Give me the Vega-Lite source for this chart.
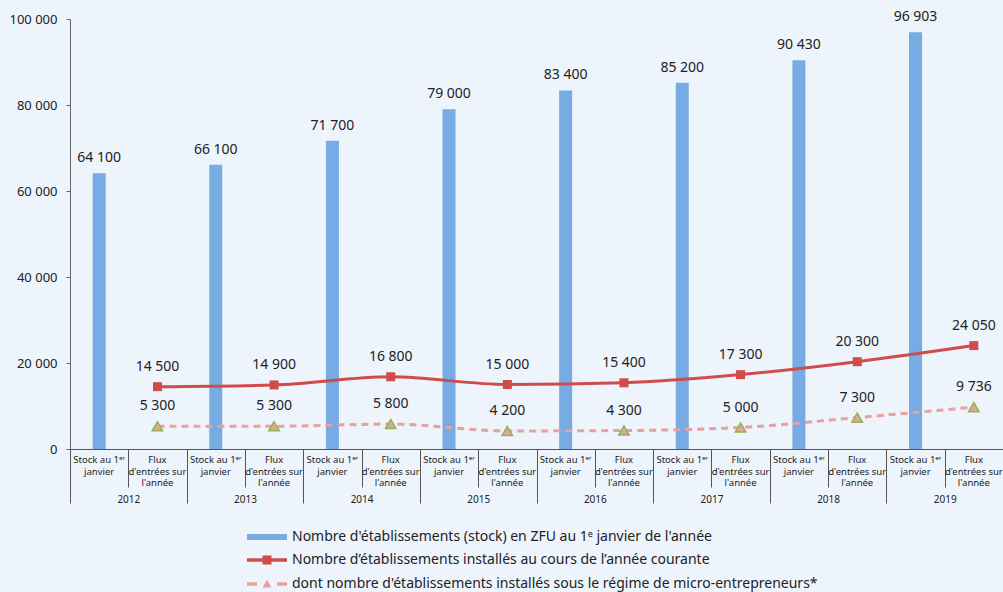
{
  "$schema": "https://vega.github.io/schema/vega-lite/v6.json",
  "width": 933,
  "height": 430,
  "padding": {"left": 9, "top": 10, "right": 0, "bottom": 5},
  "background": "#EEF4FC",
  "config": {
    "view": {"stroke": null},
    "font": "Noto Sans",
    "axis": {"grid": false}
  },
  "datasets": {
    "cats": [
      {"cat": "2012S", "l1": "Stock au 1ᵉʳ", "l2": "janvier", "l3": ""},
      {"cat": "2012F", "l1": "Flux", "l2": "d'entrées sur", "l3": "l'année"},
      {"cat": "2013S", "l1": "Stock au 1ᵉʳ", "l2": "janvier", "l3": ""},
      {"cat": "2013F", "l1": "Flux", "l2": "d'entrées sur", "l3": "l'année"},
      {"cat": "2014S", "l1": "Stock au 1ᵉʳ", "l2": "janvier", "l3": ""},
      {"cat": "2014F", "l1": "Flux", "l2": "d'entrées sur", "l3": "l'année"},
      {"cat": "2015S", "l1": "Stock au 1ᵉʳ", "l2": "janvier", "l3": ""},
      {"cat": "2015F", "l1": "Flux", "l2": "d'entrées sur", "l3": "l'année"},
      {"cat": "2016S", "l1": "Stock au 1ᵉʳ", "l2": "janvier", "l3": ""},
      {"cat": "2016F", "l1": "Flux", "l2": "d'entrées sur", "l3": "l'année"},
      {"cat": "2017S", "l1": "Stock au 1ᵉʳ", "l2": "janvier", "l3": ""},
      {"cat": "2017F", "l1": "Flux", "l2": "d'entrées sur", "l3": "l'année"},
      {"cat": "2018S", "l1": "Stock au 1ᵉʳ", "l2": "janvier", "l3": ""},
      {"cat": "2018F", "l1": "Flux", "l2": "d'entrées sur", "l3": "l'année"},
      {"cat": "2019S", "l1": "Stock au 1ᵉʳ", "l2": "janvier", "l3": ""},
      {"cat": "2019F", "l1": "Flux", "l2": "d'entrées sur", "l3": "l'année"}
    ],
    "main": [
      {"year": "2012", "cat": "2012S", "kind": "stock", "series": "Nombre d'établissements (stock) en ZFU au 1ᵉ janvier de l'année", "value": 64100},
      {"year": "2013", "cat": "2013S", "kind": "stock", "series": "Nombre d'établissements (stock) en ZFU au 1ᵉ janvier de l'année", "value": 66100},
      {"year": "2014", "cat": "2014S", "kind": "stock", "series": "Nombre d'établissements (stock) en ZFU au 1ᵉ janvier de l'année", "value": 71700},
      {"year": "2015", "cat": "2015S", "kind": "stock", "series": "Nombre d'établissements (stock) en ZFU au 1ᵉ janvier de l'année", "value": 79000},
      {"year": "2016", "cat": "2016S", "kind": "stock", "series": "Nombre d'établissements (stock) en ZFU au 1ᵉ janvier de l'année", "value": 83400},
      {"year": "2017", "cat": "2017S", "kind": "stock", "series": "Nombre d'établissements (stock) en ZFU au 1ᵉ janvier de l'année", "value": 85200},
      {"year": "2018", "cat": "2018S", "kind": "stock", "series": "Nombre d'établissements (stock) en ZFU au 1ᵉ janvier de l'année", "value": 90430},
      {"year": "2019", "cat": "2019S", "kind": "stock", "series": "Nombre d'établissements (stock) en ZFU au 1ᵉ janvier de l'année", "value": 96903},
      {"year": "2012", "cat": "2012F", "kind": "flux", "series": "Nombre d’établissements installés au cours de l’année courante", "value": 14500},
      {"year": "2013", "cat": "2013F", "kind": "flux", "series": "Nombre d’établissements installés au cours de l’année courante", "value": 14900},
      {"year": "2014", "cat": "2014F", "kind": "flux", "series": "Nombre d’établissements installés au cours de l’année courante", "value": 16800},
      {"year": "2015", "cat": "2015F", "kind": "flux", "series": "Nombre d’établissements installés au cours de l’année courante", "value": 15000},
      {"year": "2016", "cat": "2016F", "kind": "flux", "series": "Nombre d’établissements installés au cours de l’année courante", "value": 15400},
      {"year": "2017", "cat": "2017F", "kind": "flux", "series": "Nombre d’établissements installés au cours de l’année courante", "value": 17300},
      {"year": "2018", "cat": "2018F", "kind": "flux", "series": "Nombre d’établissements installés au cours de l’année courante", "value": 20300},
      {"year": "2019", "cat": "2019F", "kind": "flux", "series": "Nombre d’établissements installés au cours de l’année courante", "value": 24050},
      {"year": "2012", "cat": "2012F", "kind": "micro", "series": "dont nombre d'établissements installés sous le régime de micro-entrepreneurs*", "value": 5300},
      {"year": "2013", "cat": "2013F", "kind": "micro", "series": "dont nombre d'établissements installés sous le régime de micro-entrepreneurs*", "value": 5300},
      {"year": "2014", "cat": "2014F", "kind": "micro", "series": "dont nombre d'établissements installés sous le régime de micro-entrepreneurs*", "value": 5800},
      {"year": "2015", "cat": "2015F", "kind": "micro", "series": "dont nombre d'établissements installés sous le régime de micro-entrepreneurs*", "value": 4200},
      {"year": "2016", "cat": "2016F", "kind": "micro", "series": "dont nombre d'établissements installés sous le régime de micro-entrepreneurs*", "value": 4300},
      {"year": "2017", "cat": "2017F", "kind": "micro", "series": "dont nombre d'établissements installés sous le régime de micro-entrepreneurs*", "value": 5000},
      {"year": "2018", "cat": "2018F", "kind": "micro", "series": "dont nombre d'établissements installés sous le régime de micro-entrepreneurs*", "value": 7300},
      {"year": "2019", "cat": "2019F", "kind": "micro", "series": "dont nombre d'établissements installés sous le régime de micro-entrepreneurs*", "value": 9736}
    ]
  },
  "data": {"name": "main"},
  "layer": [
    {
      "transform": [{"filter": "datum.kind == 'stock'"}],
      "mark": {"type": "bar", "size": 13, "color": "#76ABE3", "xOffset": -29.15},
      "encoding": {
        "x": {
          "field": "year", "type": "nominal",
          "scale": {"paddingInner": 0, "paddingOuter": 0},
          "axis": {
            "orient": "bottom", "title": null, "labelAngle": 0, "tickBand": "extent",
            "tickSize": 54, "tickColor": "#555", "domainColor": "#555",
            "labelPadding": -9, "labelBaseline": "top", "labelFontSize": 10, "labelColor": "#222"
          }
        },
        "y": {
          "field": "value", "type": "quantitative",
          "scale": {"domain": [0, 100000], "nice": false},
          "axis": {
            "title": null, "values": [0, 20000, 40000, 60000, 80000, 100000],
            "labelExpr": "replace(format(datum.value, ',d'), ',', ' ')",
            "tickSize": 4, "tickColor": "#666", "domainColor": "#666",
            "labelFontSize": 13, "labelColor": "#222", "labelPadding": 9
          }
        }
      }
    },
    {
      "transform": [{"filter": "datum.kind == 'stock'"}],
      "mark": {"type": "text", "dy": -15, "fontSize": 14, "color": "#222", "xOffset": -29.15, "text": {"expr": "replace(format(datum.value, ',d'), ',', ' ')"}},
      "encoding": {
        "x": {"field": "year", "type": "nominal", "scale": {"paddingInner": 0, "paddingOuter": 0}, "axis": null},
        "y": {"field": "value", "type": "quantitative", "scale": {"domain": [0, 100000], "nice": false}}
      }
    },
    {
      "transform": [{"filter": "datum.kind == 'flux'"}],
      "mark": {"type": "line", "color": "#D24B4B", "strokeWidth": 3, "interpolate": "monotone"},
      "encoding": {
        "x": {
          "field": "cat", "type": "nominal",
          "scale": {
            "domain": ["2012S", "2012F", "2013S", "2013F", "2014S", "2014F", "2015S", "2015F", "2016S", "2016F", "2017S", "2017F", "2018S", "2018F", "2019S", "2019F"],
            "paddingInner": 0, "paddingOuter": 0
          },
          "axis": {
            "orient": "bottom", "title": null, "labels": false, "tickBand": "extent",
            "tickSize": 38, "tickColor": "#555", "domain": false
          }
        },
        "y": {"field": "value", "type": "quantitative", "scale": {"domain": [0, 100000], "nice": false}}
      }
    },
    {
      "transform": [{"filter": "datum.kind == 'micro'"}],
      "mark": {"type": "line", "color": "#E8A0A0", "strokeWidth": 3, "strokeDash": [7, 5], "interpolate": "monotone"},
      "encoding": {
        "x": {"field": "cat", "type": "nominal", "scale": {"domain": ["2012S", "2012F", "2013S", "2013F", "2014S", "2014F", "2015S", "2015F", "2016S", "2016F", "2017S", "2017F", "2018S", "2018F", "2019S", "2019F"], "paddingInner": 0, "paddingOuter": 0}, "axis": null},
        "y": {"field": "value", "type": "quantitative", "scale": {"domain": [0, 100000], "nice": false}}
      }
    },
    {
      "transform": [{"filter": "datum.kind == 'flux'"}],
      "mark": {"type": "point", "shape": "square", "filled": true, "size": 81, "color": "#D24B4B", "opacity": 1},
      "encoding": {
        "x": {"field": "cat", "type": "nominal", "scale": {"domain": ["2012S", "2012F", "2013S", "2013F", "2014S", "2014F", "2015S", "2015F", "2016S", "2016F", "2017S", "2017F", "2018S", "2018F", "2019S", "2019F"], "paddingInner": 0, "paddingOuter": 0}, "axis": null},
        "y": {"field": "value", "type": "quantitative", "scale": {"domain": [0, 100000], "nice": false}}
      }
    },
    {
      "transform": [{"filter": "datum.kind == 'micro'"}],
      "mark": {"type": "point", "shape": "triangle-up", "filled": true, "size": 110, "fill": "#E8A0A0", "stroke": "#8DB84A", "strokeWidth": 1.5, "opacity": 1},
      "encoding": {
        "x": {"field": "cat", "type": "nominal", "scale": {"domain": ["2012S", "2012F", "2013S", "2013F", "2014S", "2014F", "2015S", "2015F", "2016S", "2016F", "2017S", "2017F", "2018S", "2018F", "2019S", "2019F"], "paddingInner": 0, "paddingOuter": 0}, "axis": null},
        "y": {"field": "value", "type": "quantitative", "scale": {"domain": [0, 100000], "nice": false}}
      }
    },
    {
      "transform": [{"filter": "datum.kind != 'stock'"}],
      "mark": {"type": "text", "dy": -20, "fontSize": 14, "color": "#222", "text": {"expr": "replace(format(datum.value, ',d'), ',', ' ')"}},
      "encoding": {
        "x": {"field": "cat", "type": "nominal", "scale": {"domain": ["2012S", "2012F", "2013S", "2013F", "2014S", "2014F", "2015S", "2015F", "2016S", "2016F", "2017S", "2017F", "2018S", "2018F", "2019S", "2019F"], "paddingInner": 0, "paddingOuter": 0}, "axis": null},
        "y": {"field": "value", "type": "quantitative", "scale": {"domain": [0, 100000], "nice": false}}
      }
    },
    {
      "data": {"name": "cats"},
      "mark": {"type": "text", "fontSize": 9.5, "color": "#222", "baseline": "top", "dy": 0},
      "encoding": {
        "x": {"field": "cat", "type": "nominal", "scale": {"domain": ["2012S", "2012F", "2013S", "2013F", "2014S", "2014F", "2015S", "2015F", "2016S", "2016F", "2017S", "2017F", "2018S", "2018F", "2019S", "2019F"], "paddingInner": 0, "paddingOuter": 0}, "axis": null},
        "y": {"datum": -1400, "type": "quantitative", "scale": {"domain": [0, 100000], "nice": false}},
        "text": {"field": "l1"}
      }
    },
    {
      "data": {"name": "cats"},
      "mark": {"type": "text", "fontSize": 9.5, "color": "#222", "baseline": "top", "dy": 11.5},
      "encoding": {
        "x": {"field": "cat", "type": "nominal", "scale": {"domain": ["2012S", "2012F", "2013S", "2013F", "2014S", "2014F", "2015S", "2015F", "2016S", "2016F", "2017S", "2017F", "2018S", "2018F", "2019S", "2019F"], "paddingInner": 0, "paddingOuter": 0}, "axis": null},
        "y": {"datum": -1400, "type": "quantitative", "scale": {"domain": [0, 100000], "nice": false}},
        "text": {"field": "l2"}
      }
    },
    {
      "data": {"name": "cats"},
      "mark": {"type": "text", "fontSize": 9.5, "color": "#222", "baseline": "top", "dy": 23},
      "encoding": {
        "x": {"field": "cat", "type": "nominal", "scale": {"domain": ["2012S", "2012F", "2013S", "2013F", "2014S", "2014F", "2015S", "2015F", "2016S", "2016F", "2017S", "2017F", "2018S", "2018F", "2019S", "2019F"], "paddingInner": 0, "paddingOuter": 0}, "axis": null},
        "y": {"datum": -1400, "type": "quantitative", "scale": {"domain": [0, 100000], "nice": false}},
        "text": {"field": "l3"}
      }
    },
    {
      "mark": {"type": "point", "filled": true, "opacity": 0},
      "encoding": {
        "x": {"field": "cat", "type": "nominal", "scale": {"domain": ["2012S", "2012F", "2013S", "2013F", "2014S", "2014F", "2015S", "2015F", "2016S", "2016F", "2017S", "2017F", "2018S", "2018F", "2019S", "2019F"], "paddingInner": 0, "paddingOuter": 0}, "axis": null},
        "y": {"field": "value", "type": "quantitative", "scale": {"domain": [0, 100000], "nice": false}},
        "color": {
          "field": "series", "type": "nominal",
          "scale": {
            "domain": [
              "Nombre d'établissements (stock) en ZFU au 1ᵉ janvier de l'année",
              "Nombre d’établissements installés au cours de l’année courante",
              "dont nombre d'établissements installés sous le régime de micro-entrepreneurs*"
            ],
            "range": ["#76ABE3", "#D24B4B", "#E8A0A0"]
          },
          "legend": {
            "title": null, "orient": "none", "legendX": 176, "legendY": 509,
            "direction": "vertical", "padding": 0, "symbolOpacity": 1,
            "symbolSize": 256, "labelOffset": 28, "labelFontSize": 14, "labelColor": "#222",
            "labelLimit": 1000, "rowPadding": 7
          }
        },
        "shape": {
          "field": "series", "type": "nominal",
          "scale": {
            "domain": [
              "Nombre d'établissements (stock) en ZFU au 1ᵉ janvier de l'année",
              "Nombre d’établissements installés au cours de l’année courante",
              "dont nombre d'établissements installés sous le régime de micro-entrepreneurs*"
            ],
            "range": [
              "M-1,-0.375H4V0.375H-1Z",
              "M-1,-0.22H4V0.22H-1Z M0.94,-0.56H2.06V0.56H0.94Z",
              "M-1,-0.22H0.25V0.22H-1Z M2.75,-0.22H4V0.22H2.75Z M1.5,-0.55L2.05,0.45H0.95Z"
            ]
          },
          "legend": {
            "title": null, "orient": "none", "legendX": 176, "legendY": 509,
            "direction": "vertical", "padding": 0, "symbolOpacity": 1,
            "symbolSize": 256, "labelOffset": 28, "labelFontSize": 14, "labelColor": "#222",
            "labelLimit": 1000, "rowPadding": 7
          }
        }
      }
    }
  ],
  "resolve": {"scale": {"x": "independent"}}
}
